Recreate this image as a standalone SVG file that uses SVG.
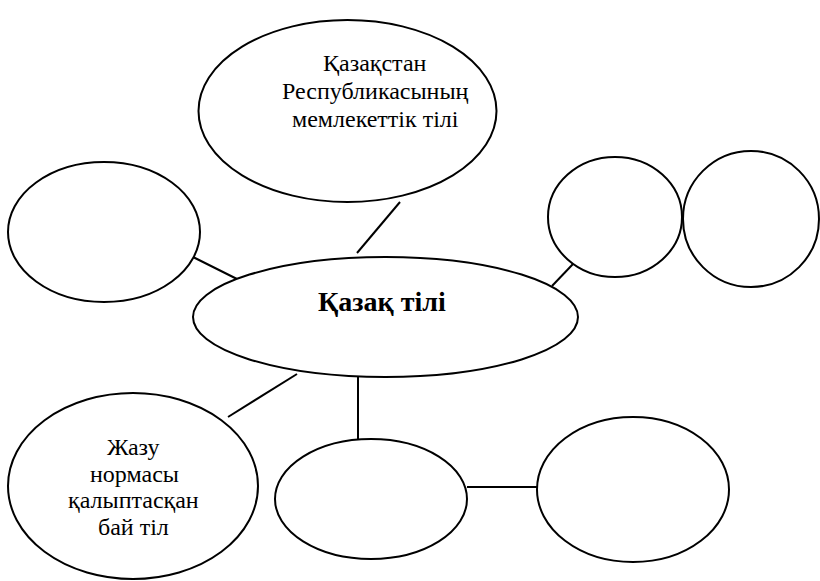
<svg xmlns="http://www.w3.org/2000/svg" width="820" height="581" viewBox="0 0 820 581">
<style>
.n{fill:#fff;stroke:#000;stroke-width:2}
.c{stroke:#000;stroke-width:2;fill:none}
</style>
<rect width="820" height="581" fill="#fff"/>
<g id="connectors">
<line class="c" x1="400" y1="202" x2="357" y2="253"/>
<line class="c" x1="193" y1="257" x2="241" y2="281"/>
<line class="c" x1="552" y1="286" x2="573" y2="264"/>
<line class="c" x1="228" y1="417" x2="297" y2="374"/>
<line class="c" x1="358" y1="377" x2="358" y2="439"/>
<line class="c" x1="467" y1="487" x2="537" y2="487"/>
</g>
<g id="node-top">
<ellipse class="n" cx="347.5" cy="111" rx="149" ry="91"/>
<text x="323" y="71" font-family="Liberation Serif" font-size="24">Қазақстан</text>
<text x="282" y="99" font-family="Liberation Serif" font-size="24">Республикасының</text>
<text x="292" y="127" font-family="Liberation Serif" font-size="24">мемлекеттік тілі</text>
</g>
<g id="node-left">
<ellipse class="n" cx="104" cy="232" rx="96" ry="70"/>
</g>
<g id="node-main">
<ellipse class="n" cx="385.5" cy="317" rx="192.5" ry="60"/>
<text x="318" y="311" font-family="Liberation Serif" font-size="28" font-weight="bold">Қазақ тілі</text>
</g>
<g id="node-right1">
<ellipse class="n" cx="615" cy="217" rx="67" ry="60"/>
</g>
<g id="node-right2">
<ellipse class="n" cx="751" cy="219" rx="68" ry="68"/>
</g>
<g id="node-bottomleft">
<ellipse class="n" cx="133" cy="486" rx="125" ry="93"/>
<text x="107" y="455" font-family="Liberation Serif" font-size="24">Жазу</text>
<text x="90" y="482" font-family="Liberation Serif" font-size="24">нормасы</text>
<text x="68" y="508" font-family="Liberation Serif" font-size="24">қалыптасқан</text>
<text x="98" y="535" font-family="Liberation Serif" font-size="24">бай тіл</text>
</g>
<g id="node-bottommid">
<ellipse class="n" cx="371" cy="499" rx="96" ry="60"/>
</g>
<g id="node-bottomright">
<ellipse class="n" cx="633" cy="489.5" rx="96" ry="72.5"/>
</g>
</svg>
